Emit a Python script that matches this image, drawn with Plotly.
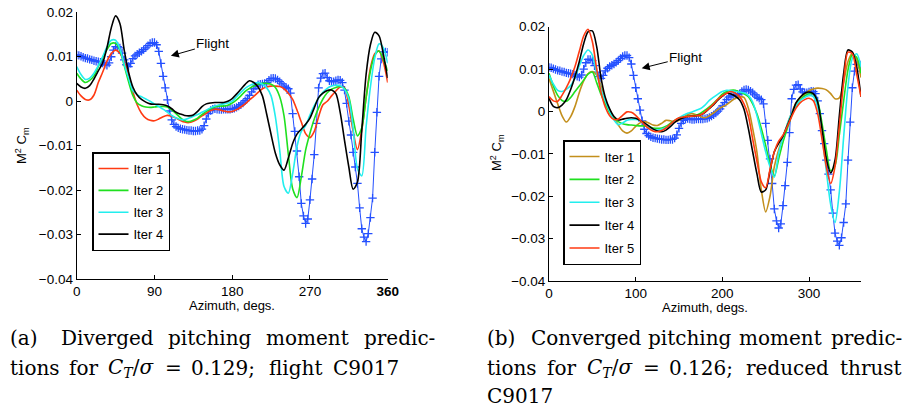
import plotly.graph_objects as go

# ---------------- data ----------------
AZ5 = [i * 5 for i in range(73)]          # model azimuth grid, deg
FLIGHT_AZ = [i * 2.5 for i in range(145)]  # flight azimuth grid, deg

FLIGHT = [0.0104, 0.0103, 0.0101, 0.0099, 0.0097, 0.0096, 0.0094, 0.0093, 0.0091, 0.0090,
          0.0089, 0.0088, 0.0086, 0.0083, 0.0081, 0.0086, 0.0100, 0.0115, 0.0123, 0.0123,
          0.0120, 0.0108, 0.0093, 0.0082, 0.0078, 0.0085, 0.0096, 0.0102, 0.0106, 0.0109,
          0.0112, 0.0116, 0.0120, 0.0125, 0.0130, 0.0132, 0.0132, 0.0127, 0.0112, 0.0085,
          0.0056, 0.0030, 0.0003, -0.0022, -0.0042, -0.0052, -0.0057, -0.0060, -0.0062, -0.0063,
          -0.0064, -0.0065, -0.0066, -0.0066, -0.0067, -0.0067, -0.0066, -0.0066, -0.0063, -0.0055,
          -0.0040, -0.0028, -0.0021, -0.0018, -0.0017, -0.0018, -0.0019, -0.0019, -0.0018, -0.0018,
          -0.0018, -0.0018, -0.0017, -0.0016, -0.0014, -0.0011, -0.0008, -0.0004, 0.0001, 0.0006,
          0.0013, 0.0021, 0.0028, 0.0034, 0.0037, 0.0038, 0.0039, 0.0040, 0.0042, 0.0047,
          0.0051, 0.0052, 0.0051, 0.0048, 0.0044, 0.0039, 0.0034, 0.0031, 0.0028, 0.0018,
          -0.0028, -0.0068, -0.0112, -0.0170, -0.0230, -0.0258, -0.0275, -0.0265, -0.0222, -0.0175,
          -0.0120, -0.0050, 0.0030, 0.0052, 0.0062, 0.0063, 0.0053, 0.0046, 0.0044, 0.0044,
          0.0046, 0.0048, 0.0047, 0.0042, 0.0025, -0.0005, -0.0045, -0.0076, -0.0115, -0.0148,
          -0.0185, -0.0240, -0.0287, -0.0306, -0.0316, -0.0298, -0.0262, -0.0218, -0.0115, -0.0025,
          0.0056, 0.0095, 0.0111, 0.0111, 0.0110]

# (a) diverged predictions, C_T/sigma = 0.129
A_ITER1 = [0.0025, 0.0012, 0.0004, 0.0003, 0.0014, 0.0042, 0.0065, 0.0090, 0.0107, 0.0115,
           0.0108, 0.0088, 0.0060, 0.0022, -0.0008, -0.0027, -0.0038, -0.0043, -0.0044, -0.0040,
           -0.0035, -0.0032, -0.0034, -0.0038, -0.0043, -0.0047, -0.0048, -0.0045, -0.0040, -0.0033,
           -0.0027, -0.0021, -0.0018, -0.0019, -0.0022, -0.0024, -0.0023, -0.0019, -0.0013, -0.0006,
           0.0003, 0.0011, 0.0020, 0.0028, 0.0032, 0.0034, 0.0034, 0.0033, 0.0028, 0.0018,
           0.0004, -0.0020, -0.0047, -0.0073, -0.0082, -0.0068, -0.0035, -0.0008, 0.0000, 0.0012,
           0.0023, 0.0032, 0.0030, -0.0010, -0.0068, -0.0109, -0.0065, 0.0008, 0.0075, 0.0107,
           0.0113, 0.0088, 0.0042]
A_ITER2 = [0.0063, 0.0050, 0.0042, 0.0047, 0.0057, 0.0078, 0.0098, 0.0116, 0.0130, 0.0130,
           0.0115, 0.0080, 0.0044, 0.0013, -0.0004, -0.0010, -0.0013, -0.0014, -0.0013, -0.0012,
           -0.0012, -0.0013, -0.0020, -0.0028, -0.0037, -0.0044, -0.0046, -0.0043, -0.0038, -0.0030,
           -0.0023, -0.0017, -0.0013, -0.0011, -0.0011, -0.0009, -0.0004, 0.0003, 0.0012, 0.0022,
           0.0029, 0.0034, 0.0038, 0.0040, 0.0040, 0.0038, 0.0031, 0.0010, -0.0033, -0.0120,
           -0.0197, -0.0217, -0.0170, -0.0110, -0.0072, -0.0040, -0.0015, 0.0005, 0.0019, 0.0027,
           0.0031, 0.0033, 0.0029, 0.0010, -0.0040, -0.0078, -0.0060, 0.0008, 0.0068, 0.0103,
           0.0113, 0.0094, 0.0068]
A_ITER3 = [0.0078, 0.0060, 0.0049, 0.0052, 0.0063, 0.0080, 0.0100, 0.0122, 0.0137, 0.0137,
           0.0118, 0.0083, 0.0052, 0.0024, 0.0015, 0.0010, 0.0005, 0.0000, -0.0006, -0.0012,
           -0.0018, -0.0025, -0.0032, -0.0038, -0.0041, -0.0041, -0.0038, -0.0034, -0.0030, -0.0025,
           -0.0020, -0.0015, -0.0011, -0.0008, -0.0006, -0.0004, 0.0000, 0.0010, 0.0020, 0.0029,
           0.0035, 0.0040, 0.0042, 0.0038, 0.0030, 0.0012, -0.0035, -0.0110, -0.0192, -0.0207,
           -0.0163, -0.0102, -0.0068, -0.0055, -0.0031, -0.0010, 0.0007, 0.0020, 0.0029, 0.0034,
           0.0036, 0.0035, 0.0027, 0.0005, -0.0062, -0.0152, -0.0168, -0.0058, 0.0032, 0.0097,
           0.0129, 0.0120, 0.0085]
A_ITER4 = [0.0040, 0.0032, 0.0029, 0.0035, 0.0050, 0.0068, 0.0086, 0.0120, 0.0165, 0.0192,
           0.0175, 0.0115, 0.0066, 0.0032, 0.0014, 0.0004, -0.0002, -0.0006, -0.0007, -0.0007,
           -0.0008, -0.0011, -0.0017, -0.0025, -0.0029, -0.0032, -0.0033, -0.0031, -0.0023, -0.0012,
           -0.0006, -0.0004, -0.0003, -0.0003, -0.0003, 0.0000, 0.0006, 0.0016, 0.0027, 0.0038,
           0.0046, 0.0042, 0.0032, 0.0012, -0.0030, -0.0075, -0.0117, -0.0143, -0.0155, -0.0128,
           -0.0095, -0.0074, -0.0063, -0.0052, -0.0038, -0.0015, 0.0008, 0.0018, 0.0024, 0.0025,
           0.0017, -0.0025, -0.0088, -0.0148, -0.0198, -0.0182, -0.0065, 0.0060, 0.0127, 0.0155,
           0.0147, 0.0105, 0.0052]

# (b) converged predictions, C_T/sigma = 0.126
B_ITER1 = [0.0078, 0.0048, 0.0018, -0.0010, -0.0025, -0.0012, 0.0012, 0.0045, 0.0072, 0.0089,
           0.0094, 0.0086, 0.0060, 0.0027, 0.0004, -0.0016, -0.0032, -0.0046, -0.0051, -0.0046,
           -0.0035, -0.0027, -0.0024, -0.0027, -0.0032, -0.0033, -0.0028, -0.0021, -0.0022, -0.0024,
           -0.0021, -0.0014, -0.0007, -0.0005, -0.0008, -0.0012, -0.0015, -0.0010, -0.0003, 0.0005,
           0.0011, 0.0016, 0.0024, 0.0031, 0.0035, 0.0033, 0.0008, -0.0040, -0.0097, -0.0185,
           -0.0237, -0.0200, -0.0130, -0.0090, -0.0060, -0.0030, -0.0003, 0.0020, 0.0032, 0.0041,
           0.0049, 0.0053, 0.0055, 0.0054, 0.0051, 0.0042, 0.0030, 0.0032, 0.0070, 0.0118,
           0.0137, 0.0122, 0.0080]
B_ITER2 = [0.0090, 0.0060, 0.0038, 0.0026, 0.0024, 0.0033, 0.0047, 0.0060, 0.0074, 0.0088,
           0.0093, 0.0068, 0.0040, 0.0018, -0.0003, -0.0016, -0.0024, -0.0029, -0.0031, -0.0032,
           -0.0033, -0.0034, -0.0034, -0.0036, -0.0039, -0.0040, -0.0039, -0.0035, -0.0028, -0.0021,
           -0.0016, -0.0013, -0.0011, -0.0010, -0.0009, -0.0004, 0.0003, 0.0011, 0.0020, 0.0030,
           0.0041, 0.0047, 0.0050, 0.0050, 0.0046, 0.0042, 0.0035, 0.0018, -0.0006, -0.0040,
           -0.0080, -0.0124, -0.0152, -0.0112, -0.0072, -0.0040, -0.0010, 0.0012, 0.0027, 0.0037,
           0.0042, 0.0041, 0.0024, -0.0028, -0.0090, -0.0140, -0.0128, -0.0055, 0.0025, 0.0098,
           0.0134, 0.0128, 0.0090]
B_ITER3 = [0.0086, 0.0065, 0.0050, 0.0047, 0.0052, 0.0061, 0.0080, 0.0108, 0.0132, 0.0145,
           0.0133, 0.0090, 0.0052, 0.0025, 0.0000, -0.0020, -0.0031, -0.0027, -0.0021, -0.0019,
           -0.0019, -0.0021, -0.0029, -0.0037, -0.0042, -0.0044, -0.0042, -0.0038, -0.0032, -0.0023,
           -0.0015, -0.0009, -0.0004, -0.0001, 0.0003, 0.0007, 0.0015, 0.0026, 0.0034, 0.0041,
           0.0047, 0.0050, 0.0049, 0.0047, 0.0046, 0.0044, 0.0038, 0.0022, -0.0010, -0.0052,
           -0.0095, -0.0130, -0.0155, -0.0098, -0.0060, -0.0030, -0.0004, 0.0014, 0.0026, 0.0033,
           0.0038, 0.0035, 0.0010, -0.0055, -0.0140, -0.0220, -0.0262, -0.0190, -0.0060, 0.0060,
           0.0125, 0.0136, 0.0106]
B_ITER4 = [0.0031, 0.0012, 0.0009, 0.0015, 0.0028, 0.0052, 0.0082, 0.0118, 0.0160, 0.0188,
           0.0190, 0.0153, 0.0080, 0.0033, 0.0006, -0.0012, -0.0020, -0.0018, -0.0016, -0.0015,
           -0.0016, -0.0021, -0.0027, -0.0034, -0.0041, -0.0046, -0.0048, -0.0044, -0.0036, -0.0026,
           -0.0019, -0.0015, -0.0012, -0.0011, -0.0010, -0.0008, -0.0002, 0.0007, 0.0016, 0.0027,
           0.0036, 0.0043, 0.0041, 0.0036, 0.0027, 0.0005, -0.0040, -0.0095, -0.0148, -0.0190,
           -0.0185, -0.0140, -0.0095, -0.0075, -0.0058, -0.0033, -0.0008, 0.0020, 0.0034, 0.0043,
           0.0046, 0.0042, 0.0022, -0.0040, -0.0112, -0.0145, -0.0115, -0.0010, 0.0090, 0.0145,
           0.0140, 0.0105, 0.0035]
B_ITER5 = [0.0035, 0.0025, 0.0024, 0.0038, 0.0056, 0.0078, 0.0106, 0.0142, 0.0178, 0.0194,
           0.0165, 0.0100, 0.0045, 0.0010, -0.0010, -0.0019, -0.0018, -0.0009, -0.0001, -0.0002,
           -0.0009, -0.0020, -0.0031, -0.0040, -0.0046, -0.0048, -0.0045, -0.0039, -0.0030, -0.0021,
           -0.0015, -0.0013, -0.0012, -0.0011, -0.0010, -0.0008, -0.0001, 0.0008, 0.0018, 0.0029,
           0.0037, 0.0043, 0.0047, 0.0043, 0.0035, 0.0018, -0.0010, -0.0065, -0.0118, -0.0166,
           -0.0180, -0.0137, -0.0095, -0.0070, -0.0056, -0.0035, -0.0012, 0.0008, 0.0021, 0.0028,
           0.0031, 0.0025, -0.0005, -0.0065, -0.0130, -0.0170, -0.0130, -0.0035, 0.0070, 0.0140,
           0.0136, 0.0088, 0.0035]

A_SERIES = [("Iter 1", A_ITER1, "#ff3a12"), ("Iter 2", A_ITER2, "#1fe01f"),
            ("Iter 3", A_ITER3, "#22eeee"), ("Iter 4", A_ITER4, "#000000")]
B_SERIES = [("Iter 1", B_ITER1, "#c38f1c"), ("Iter 2", B_ITER2, "#1fe01f"),
            ("Iter 3", B_ITER3, "#22eeee"), ("Iter 4", B_ITER4, "#000000"),
            ("Iter 5", B_ITER5, "#ff3a12")]

A_XTICKS = [0, 90, 180, 270, 360]
A_XTICKTEXT = ["0", "90", "180", "270", "<b>360</b>"]
B_XTICKS = [0, 100, 200, 300]
B_XTICKTEXT = ["0", "100", "200", "300"]
YTICKS = [-0.04, -0.03, -0.02, -0.01, 0, 0.01, 0.02]
YTICKTEXT = ["\u22120.04", "\u22120.03", "\u22120.02", "\u22120.01", "0", "0.01", "0.02"]

FLIGHT_BLUE = "#2450ff"
SANS = "Liberation Sans, Arial, sans-serif"
SERIF = "DejaVu Serif, serif"

fig = go.Figure()

# flight data on both panels
for xa, ya in (("x", "y"), ("x2", "y2")):
    fig.add_trace(go.Scatter(
        x=FLIGHT_AZ, y=FLIGHT, xaxis=xa, yaxis=ya, mode="lines+markers",
        line=dict(color=FLIGHT_BLUE, width=1),
        marker=dict(symbol="cross-thin", size=6, line=dict(color=FLIGHT_BLUE, width=1.3)),
        showlegend=False, hoverinfo="skip"))

for i, (name, vals, col) in enumerate(A_SERIES):
    fig.add_trace(go.Scatter(
        x=AZ5, y=vals, xaxis="x", yaxis="y", mode="lines", name=name,
        line=dict(color=col, width=1.6, shape="spline", smoothing=0.8),
        legend="legend", legendgroup="a%d" % i))

for i, (name, vals, col) in enumerate(B_SERIES):
    fig.add_trace(go.Scatter(
        x=AZ5, y=vals, xaxis="x2", yaxis="y2", mode="lines", name=name,
        line=dict(color=col, width=1.6, shape="spline", smoothing=0.8),
        legend="legend2", legendgroup="b%d" % i))

W, H = 903, 408

def px_x(p):
    return p / W

def px_y(p):
    return 1 - p / H

axis_common = dict(showgrid=False, zeroline=False, showline=True, linecolor="black",
                   linewidth=1, ticks="inside", ticklen=4, tickcolor="black", automargin=False,
                   tickfont=dict(family=SANS, size=13.5, color="black"), mirror=False)

fig.update_layout(
    width=W, height=H, margin=dict(l=0, r=0, t=0, b=0, pad=0, autoexpand=False),
    paper_bgcolor="white", plot_bgcolor="white", showlegend=True,
    xaxis=dict(domain=[px_x(76.7), px_x(387.7)], range=[0, 360], anchor="y",
               tickvals=A_XTICKS, ticktext=A_XTICKTEXT, **axis_common),
    yaxis=dict(domain=[px_y(279), px_y(12.3)], range=[-0.04, 0.02], anchor="x",
               tickvals=YTICKS, ticktext=YTICKTEXT, **axis_common),
    xaxis2=dict(domain=[px_x(549), px_x(861)], range=[0, 360], anchor="y2",
                tickvals=B_XTICKS, ticktext=B_XTICKTEXT, **axis_common),
    yaxis2=dict(domain=[px_y(281), px_y(26.7)], range=[-0.04, 0.02], anchor="x2",
                tickvals=YTICKS, ticktext=YTICKTEXT, **axis_common),
    legend=dict(x=px_x(92), y=px_y(152), xanchor="left", yanchor="top",
                bgcolor="white", bordercolor="black", borderwidth=1.5,
                font=dict(family=SANS, size=13, color="black"),
                tracegroupgap=2, traceorder="grouped"),
    legend2=dict(x=px_x(563), y=px_y(140), xanchor="left", yanchor="top",
                 bgcolor="white", bordercolor="black", borderwidth=1.5,
                 font=dict(family=SANS, size=13, color="black"),
                 tracegroupgap=3, traceorder="grouped"),
)

# axis titles
AXIS_TITLES = [
    ("Azimuth, degs.", 232, 305, 0), ("Azimuth, degs.", 705, 307, 0),
    ("M<sup>2</sup> C<sub>m</sub>", 22, 146, -90), ("M<sup>2</sup> C<sub>m</sub>", 497, 153, -90),
]
for txt, xc, yc, ang in AXIS_TITLES:
    fig.add_annotation(x=px_x(xc), y=px_y(yc), xref="paper", yref="paper", text=txt,
                       showarrow=False, xanchor="center", yanchor="middle", textangle=ang,
                       font=dict(family=SANS, size=13, color="black"))

# "Flight" pointers
fig.add_annotation(x=109, y=0.0102, xref="x", yref="y", text="Flight", showarrow=True,
                   ax=42, ay=-12, arrowhead=2, arrowsize=1.6, arrowwidth=1, arrowcolor="black",
                   font=dict(family=SANS, size=13.5, color="black"))
fig.add_annotation(x=107, y=0.0102, xref="x2", yref="y2", text="Flight", showarrow=True,
                   ax=44, ay=-11, arrowhead=2, arrowsize=1.6, arrowwidth=1, arrowcolor="black",
                   font=dict(family=SANS, size=13.5, color="black"))

# captions (justified lines placed word by word)
CT = "<i>C</i><sub><i>T</i></sub>/<i>\u03c3</i>"
CAPTION_WORDS = [
    # (text, left x px, center y px)
    ("(a)", 8, 338), ("Diverged", 59, 338), ("pitching", 166, 338),
    ("moment", 264, 338), ("predic-", 362, 338),
    ("tions", 8, 368), ("for", 67, 368), (CT, 106, 368), ("=", 163, 368),
    ("0.129;", 189, 368), ("flight", 267, 368), ("C9017", 331, 368),
    ("(b)", 485, 338), ("Converged", 529, 338), ("pitching", 646, 338),
    ("moment", 737, 338), ("predic-", 829, 338),
    ("tions", 485, 368), ("for", 545, 368), (CT, 585, 368), ("=", 641, 368),
    ("0.126;", 667, 368), ("reduced", 744, 368), ("thrust", 838, 368),
    ("C9017", 485, 396),
]
for txt, xl, yc in CAPTION_WORDS:
    fig.add_annotation(x=px_x(xl), y=px_y(yc), xref="paper", yref="paper", text=txt,
                       showarrow=False, xanchor="left", yanchor="middle",
                       font=dict(family=SERIF, size=20, color="black"))

fig.write_html("out.html", config={"displayModeBar": False},
               post_script="document.body.style.margin='0';")
